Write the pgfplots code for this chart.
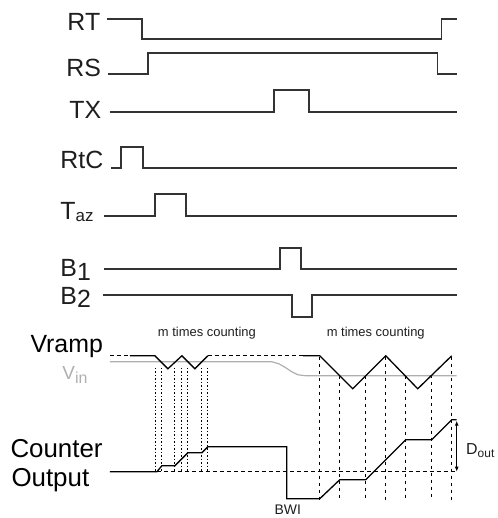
\documentclass[border=0pt]{standalone}
\usepackage{fontspec}
\setmainfont{Liberation Sans}
\usepackage{pgfplots}
\pgfplotsset{compat=1.18}
\usetikzlibrary{arrows.meta}
\definecolor{sig}{HTML}{333333}
\definecolor{txt}{HTML}{1E1E1E}
\definecolor{vin}{HTML}{AFAFAF}
\definecolor{grid}{HTML}{9A9A9A}

\begin{document}
\begin{tikzpicture}
\begin{axis}[
  width=495bp, height=518bp, scale only axis,
  xmin=0, xmax=495, ymin=0, ymax=518,
  y dir=reverse,
  hide axis, clip=false,
  every axis plot/.append style={no marks},
]
\path[draw=none] (rel axis cs:0,0) rectangle (rel axis cs:1,1);

% digital control signals
\addplot[sig, line width=1.4bp] coordinates {(107,19) (142,19) (142,39) (442,39) (442,19) (457,19)};
\addplot[sig, line width=1.4bp] coordinates {(108,74) (148,74) (148,53) (438,53) (438,74) (457,74)};
\addplot[sig, line width=1.4bp] coordinates {(110,112) (274,112) (274,90) (309,90) (309,112) (457,112)};
\addplot[sig, line width=1.4bp] coordinates {(111,168) (121,168) (121,147) (143,147) (143,168) (457,168)};
\addplot[sig, line width=1.4bp] coordinates {(104,216) (155,216) (155,194) (186,194) (186,216) (457,216)};
\addplot[sig, line width=1.4bp] coordinates {(104,269) (280,269) (280,248) (301,248) (301,269) (457,269)};
\addplot[sig, line width=1.4bp] coordinates {(103,295) (292,295) (292,317) (312,317) (312,295) (457,295)};

% vertical guide lines, first counting phase
\addplot[grid, dash pattern=on 1.5bp off 2bp, line width=0.8bp] coordinates {(155,368) (155,472)};
\addplot[grid, dash pattern=on 1.5bp off 2bp, line width=0.8bp] coordinates {(161,368) (161,472)};
\addplot[grid, dash pattern=on 1.5bp off 2bp, line width=0.8bp] coordinates {(175,368) (175,472)};
\addplot[grid, dash pattern=on 1.5bp off 2bp, line width=0.8bp] coordinates {(182,368) (182,472)};
\addplot[grid, dash pattern=on 1.5bp off 2bp, line width=0.8bp] coordinates {(188,368) (188,472)};
\addplot[grid, dash pattern=on 1.5bp off 2bp, line width=0.8bp] coordinates {(202,368) (202,472)};
\addplot[grid, dash pattern=on 1.5bp off 2bp, line width=0.8bp] coordinates {(208,368) (208,472)};
% second counting phase
\addplot[grid, dash pattern=on 3bp off 4bp, line width=0.8bp] coordinates {(320,357) (320,500)};
\addplot[grid, dash pattern=on 3bp off 4bp, line width=0.8bp] coordinates {(340,376) (340,500)};
\addplot[grid, dash pattern=on 3bp off 4bp, line width=0.8bp] coordinates {(366,376) (366,500)};
\addplot[grid, dash pattern=on 3bp off 4bp, line width=0.8bp] coordinates {(386,357) (386,500)};
\addplot[grid, dash pattern=on 3bp off 4bp, line width=0.8bp] coordinates {(406,376) (406,500)};
\addplot[grid, dash pattern=on 3bp off 4bp, line width=0.8bp] coordinates {(432,375) (432,500)};
\addplot[grid, dash pattern=on 3bp off 4bp, line width=0.8bp] coordinates {(452,357) (452,500)};

% Vin
\addplot[vin, line width=1.2bp] coordinates {(110,362) (272,362) (279,364) (286,368) (292,372) (298,375) (306,376) (457,376)};

% Vramp
\addplot[black, line width=1.3bp, dash pattern=on 4bp off 3bp] coordinates {(110,356) (130,356)};
\addplot[black, line width=1.3bp] coordinates {(130,356) (155,356) (168,369) (182,356) (195,369) (208,356)};
\addplot[black, line width=1.3bp, dash pattern=on 4bp off 3bp] coordinates {(208,356) (303,356)};
\addplot[black, line width=1.3bp] coordinates {(303,356) (320,356) (353,389) (386,356) (418,389) (452,356)};

% counter output
\addplot[black, line width=1.1bp, dash pattern=on 4bp off 3bp] coordinates {(157,472) (457,472)};
\addplot[black, line width=1.3bp] coordinates {(110,472) (157,472) (162,466) (175,466) (188,453) (202,453) (208,447) (287,447) (287,499) (320,499) (340,480) (366,480) (406,440) (432,440) (452,420) (457,420)};

% Dout span
\addplot[grid, line width=1bp, {Latex[length=5bp,width=4bp]}-{Latex[length=5bp,width=4bp]}] coordinates {(457,421) (457,472)};

% labels
\node[anchor=base west, txt, font=\fontsize{25}{25}\selectfont] at (axis cs:64,31) {RT};
\node[anchor=base west, txt, font=\fontsize{25}{25}\selectfont] at (axis cs:63,77) {RS};
\node[anchor=base west, txt, font=\fontsize{25}{25}\selectfont] at (axis cs:66,119) {TX};
\node[anchor=base west, txt, font=\fontsize{25}{25}\selectfont] at (axis cs:57,169) {RtC};
\node[anchor=base west, txt, font=\fontsize{25}{25}\selectfont] at (axis cs:57,220) {T\raisebox{-2bp}{\fontsize{17}{17}\selectfont az}};
\node[anchor=base west, txt, font=\fontsize{25}{25}\selectfont] at (axis cs:57,277) {B\raisebox{-4bp}{1}};
\node[anchor=base west, txt, font=\fontsize{25}{25}\selectfont] at (axis cs:57,305) {B\raisebox{-3bp}{2}};
\node[anchor=base west, black, font=\fontsize{25}{25}\selectfont] at (axis cs:27,353) {Vramp};
\node[anchor=base west, vin, font=\fontsize{19}{19}\selectfont] at (axis cs:59,380) {V\raisebox{-4bp}{\fontsize{16}{16}\selectfont in}};
\node[anchor=base west, black, font=\fontsize{26}{26}\selectfont] at (axis cs:7,458) {Counter};
\node[anchor=base west, black, font=\fontsize{26}{26}\selectfont] at (axis cs:8,487) {Output};
\node[anchor=base, txt, font=\fontsize{13}{13}\selectfont] at (axis cs:207,337) {m times counting};
\node[anchor=base, txt, font=\fontsize{13}{13}\selectfont] at (axis cs:376,337) {m times counting};
\node[anchor=base, txt, font=\fontsize{14}{14}\selectfont] at (axis cs:288,515) {BWI};
\node[anchor=base west, txt, font=\fontsize{16}{16}\selectfont] at (axis cs:463,455) {D\raisebox{-2.5bp}{\fontsize{12}{12}\selectfont out}};
\end{axis}
\end{tikzpicture}
\end{document}
